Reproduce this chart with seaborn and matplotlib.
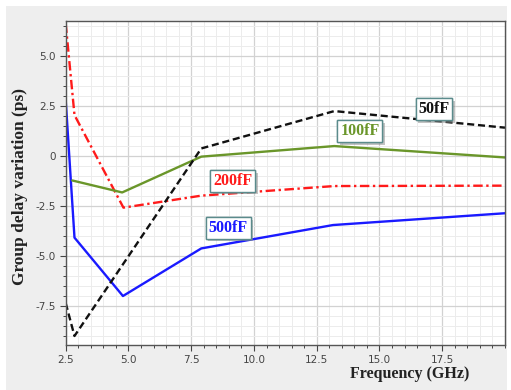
import numpy as np
import pandas as pd
import matplotlib
matplotlib.use("Agg")
import matplotlib.pyplot as plt
import matplotlib.patheffects as pe
from matplotlib.patches import Rectangle
from matplotlib.ticker import MultipleLocator
import seaborn as sns

# ---- data ----
freq_50 = [2.5, 2.85, 7.9, 13.2, 20.0]
gd_50 = [-7.35, -9.0, 0.38, 2.25, 1.42]

freq_100 = [2.76, 4.75, 7.9, 13.2, 20.0]
gd_100 = [-1.22, -1.82, -0.03, 0.5, -0.07]

freq_200 = [2.5, 2.85, 4.8, 7.9, 13.2, 20.0]
gd_200 = [6.63, 2.05, -2.58, -1.98, -1.5, -1.48]

freq_500 = [2.5, 2.85, 4.78, 7.9, 13.15, 20.0]
gd_500 = [2.8, -4.08, -7.0, -4.62, -3.45, -2.86]

series_names = ["50fF", "100fF", "200fF", "500fF"]
label_x = [17.17, 14.22, 9.15, 8.97]
label_y = [2.35, 1.25, -1.23, -3.58]

x_ticks = [2.5, 5.0, 7.5, 10.0, 12.5, 15.0, 17.5]
y_ticks = [-7.5, -5.0, -2.5, 0.0, 2.5, 5.0]
x_label = "Frequency (GHz)"
y_label = "Group delay variation (ps)"

frames = []
for name, fx, fy in zip(series_names,
                        [freq_50, freq_100, freq_200, freq_500],
                        [gd_50, gd_100, gd_200, gd_500]):
    frames.append(pd.DataFrame({"freq": fx, "gd": fy, "series": name}))
df = pd.concat(frames, ignore_index=True)

colors = {"50fF": "#111111", "100fF": "#6a962a", "200fF": "#ff1a1a", "500fF": "#1a1aff"}
dashes = {"50fF": (3.0, 1.6), "100fF": "", "200fF": (4.0, 1.5, 1.0, 1.5), "500fF": ""}

sns.set_style("white")
plt.rcParams["font.family"] = ["DejaVu Sans"]

fig = plt.figure(figsize=(5.11, 3.90), dpi=100, facecolor="white")
fig.patches.append(Rectangle((6 / 511, 0), 501 / 511, 384 / 390, transform=fig.transFigure,
                             facecolor="#eeeeee", edgecolor="none", zorder=-10))
ax = fig.add_axes([65.7 / 511, (390 - 345) / 390, (505 - 65.7) / 511, (345 - 20.7) / 390])
ax.set_facecolor("white")

order = ["500fF", "200fF", "100fF", "50fF"]
for name in order:
    sub = df[df["series"] == name]
    sns.lineplot(data=sub, x="freq", y="gd", ax=ax, color=colors[name], sort=False,
                 estimator=None, linewidth=1.7, dashes=False, legend=False)
    line = ax.lines[-1]
    if dashes[name]:
        line.set_dashes(dashes[name])

ax.set_xlim(2.5, 20.0)
ax.set_ylim(-9.45, 6.77)
ax.set_xticks(x_ticks)
ax.set_yticks(y_ticks)
ax.set_xticklabels([f"{v:.1f}" for v in x_ticks])
ax.set_yticklabels(["0" if v == 0 else f"{v:.1f}" for v in y_ticks])
ax.xaxis.set_minor_locator(MultipleLocator(0.5))
ax.yaxis.set_minor_locator(MultipleLocator(0.5))
ax.grid(True, which="major", color="#d2d2d2", linewidth=0.9, zorder=0)
ax.grid(True, which="minor", color="#ececec", linewidth=0.7, zorder=0)
ax.set_axisbelow(True)
ax.tick_params(which="major", direction="out", length=4, width=0.8, color="#444444",
               labelsize=7.5, labelcolor="#444444", bottom=True, left=True, pad=3)
ax.tick_params(which="minor", direction="out", length=2.5, width=0.7, color="#444444",
               bottom=True, left=True)
for s in ax.spines.values():
    s.set_color("#555555")
    s.set_linewidth(1.0)

ax.set_xlabel(x_label, fontfamily="Liberation Serif", fontweight="bold", fontsize=11.5, color="#222222")
ax.set_ylabel(y_label, fontfamily="Liberation Serif", fontweight="bold", fontsize=12.5, color="#222222")
ax.xaxis.set_label_coords(0.784, -0.065)
ax.yaxis.set_label_coords(-0.086, 0.49)

for name, lx, ly in zip(series_names, label_x, label_y):
    t = ax.text(lx, ly, name, ha="center", va="center", fontfamily="Liberation Serif",
                fontweight="bold", fontsize=11.5, color=colors[name], zorder=5,
                bbox=dict(boxstyle="square,pad=0.18", facecolor="white", edgecolor="#5b8b8c", linewidth=1.0))
    t.get_bbox_patch().set_path_effects([
        pe.withSimplePatchShadow(offset=(2, -2), shadow_rgbFace="#888888", alpha=0.5),
        pe.Normal()])

fig.savefig("out.png", dpi=100, facecolor=fig.get_facecolor())
